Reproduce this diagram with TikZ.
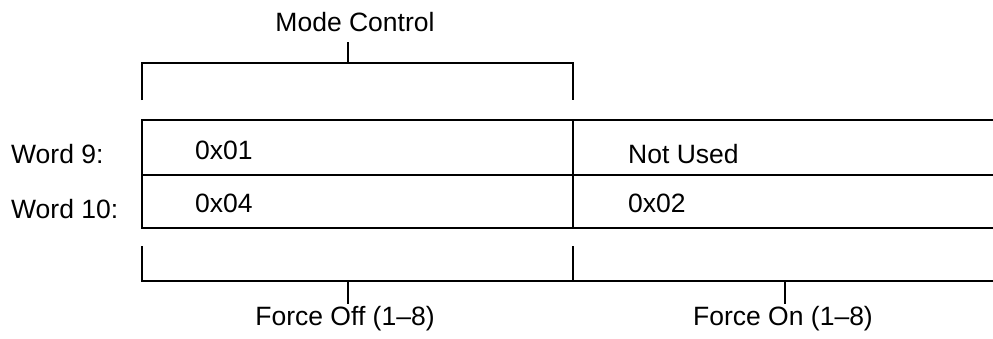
\documentclass[tikz,border=0pt]{standalone}
\usepackage{fontspec}
\setmainfont{Liberation Sans}
\usetikzlibrary{calc}

\tikzset{
  lbl/.style={font=\fontsize{26.5}{31}\selectfont,inner sep=0pt},
  rule/.style={line width=1.4pt,color=black},
}

\begin{document}
\begin{tikzpicture}[x=1pt,y=-1pt]
                      \useasboundingbox (0,0) rectangle (993,338);
                      % table of the two words
                      \coordinate (tl) at (142,120);
                      \coordinate (bl) at (142,228);
                      \coordinate (tm) at (573,120);
                      \coordinate (bm) at (573,228);
                      \draw[rule] (993,120) -- (tl) -- (bl) -- (993,228);
                      \draw[rule] (tl|-0,175) -- (993,175);
                      \draw[rule] (tm) -- (bm);
                      \node[lbl,anchor=base west](w9)at(11,163){Word 9:};
                      \node[lbl,anchor=base west](w10)at(11,218){Word 10:};
                      \node[lbl,anchor=base west](a)at(195,159){0x01};
                      \node[lbl,anchor=base west](b)at(195,212){0x04};
                      \node[lbl,anchor=base west](c)at(628,163){Not Used};
                      \node[lbl,anchor=base west](d)at(628,212){0x02};
                      % upper bracket
                      \node[lbl,anchor=base](mc)at(355,31){Mode Control};
                      \draw[rule] (142,100) -- (142,63) -- (573,63) -- (573,100);
                      \draw[rule] (348,63) -- (348,42);
                      % lower brackets
                      \draw[rule] (142,246) -- (142,281) -- (993,281);
                      \draw[rule] (573,246) -- (573,281);
                      \draw[rule] (348,281) -- (348,304);
                      \draw[rule] (785,281) -- (785,304);
                      \node[lbl,anchor=base](off)at(345,325){Force Off (1--8)};
                      \node[lbl,anchor=base](on)at(783,325){Force On (1--8)};
                  \end{tikzpicture}
\end{document}
